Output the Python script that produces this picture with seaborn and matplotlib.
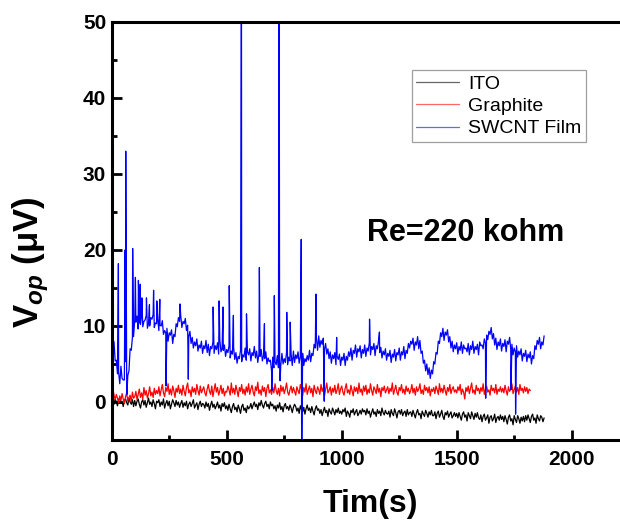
import numpy as np
import pandas as pd
import matplotlib
matplotlib.use("Agg")
import matplotlib.pyplot as plt
import seaborn as sns

# ---------------- data ----------------
step = 5  # s between samples

ito_v = [
    0.5, 0.1, -0.3, 0.4, 0.0, -0.5, 0.3, 0.6, -0.2, 0.1, -0.6, 0.2, 0.4, -0.1, -0.4, 0.5, 0.0, -0.3, 0.3, -0.6,
    0.2, -0.5, 0.1, 0.4, -0.3, -0.8, 0.0, 0.3, -0.4, 0.2, -0.7, -0.1, 0.5, -0.3, 0.0, -0.6, 0.3, -0.2, -0.9, 0.1,
    -0.1, 0.3, -0.6, 0.0, -0.4, 0.4, -0.8, -0.2, 0.2, -0.5, 0.1, -0.9, -0.3, 0.3, -0.1, -0.6, 0.2, -0.4, 0.0, -0.7,
    -0.2, 0.2, -0.7, -0.1, -0.5, 0.1, -0.9, -0.3, 0.0, -0.6, -0.2, 0.3, -0.8, -0.4, -0.1, -1.0, -0.3, 0.1, -0.6, -0.2,
    -0.3, -0.8, 0.0, -0.6, -0.2, -1.1, -0.4, 0.1, -0.7, -0.3, -0.9, -0.5, 0.0, -0.8, -0.4, -1.2, -0.2, -0.6, -0.1, -0.9,
    -0.5, -1.1, -0.3, -0.9, -1.4, -0.6, -0.2, -1.0, -0.7, -1.3, -0.4, -0.9, -1.5, -0.6, -0.3, -1.1, -0.8, -1.4, -0.5, -0.9,
    -0.7, -0.2, -0.9, -0.4, 0.0, -0.6, -0.3, -1.0, -0.1, -0.5, 0.2, -0.4, -0.8, -0.2, 0.1, -0.6, -0.3, -0.9, 0.0, -0.5,
    -0.3, -0.9, -0.5, -1.2, -0.4, -0.8, -0.1, -1.0, -0.6, -1.3, -0.5, -0.2, -0.9, -0.6, -1.1, -0.4, -0.8, -1.4, -0.7, -0.3,
    -0.6, -1.2, -0.8, -1.5, -0.5, -1.0, -1.3, -0.7, -1.6, -0.9, -0.4, -1.1, -0.8, -1.4, -0.6, -1.2, -1.7, -0.9, -0.5, -1.1,
    -0.9, -1.5, -1.0, -1.8, -1.2, -0.7, -1.4, -1.1, -1.9, -0.9, -1.3, -1.6, -0.8, -1.2, -1.7, -1.0, -1.4, -0.8, -1.5, -1.2,
    -1.6, -1.0, -1.3, -0.8, -1.9, -1.2, -1.5, -2.0, -1.1, -1.4, -0.9, -1.7, -1.3, -1.0, -1.8, -1.5, -1.1, -1.6, -0.9, -1.3,
    -1.1, -1.7, -0.9, -1.5, -1.2, -2.0, -1.4, -0.9, -1.6, -1.3, -1.9, -1.0, -1.5, -1.2, -1.8, -0.8, -1.4, -1.7, -1.1, -1.5,
    -1.6, -1.2, -2.0, -1.0, -1.5, -1.8, -0.9, -1.4, -2.1, -1.3, -1.1, -1.6, -1.0, -1.8, -1.4, -1.2, -1.9, -1.0, -1.7, -1.4,
    -1.3, -1.9, -1.1, -1.6, -2.1, -1.4, -1.0, -1.7, -1.5, -2.2, -1.2, -1.6, -1.9, -1.1, -1.5, -2.0, -1.3, -1.7, -1.1, -1.8,
    -1.8, -1.3, -2.2, -1.5, -1.2, -2.0, -1.6, -1.1, -1.9, -2.3, -1.4, -1.7, -1.2, -2.0, -1.6, -1.3, -2.1, -1.8, -1.4, -1.9,
    -1.5, -2.1, -1.4, -1.9, -2.4, -1.6, -1.3, -2.0, -1.7, -2.5, -1.4, -1.8, -2.2, -1.3, -1.8, -2.3, -1.5, -2.0, -1.4, -2.1,
    -2.3, -1.7, -2.6, -1.9, -1.6, -2.4, -2.1, -1.7, -2.8, -2.0, -1.8, -2.5, -2.2, -1.6, -2.7, -2.1, -1.9, -2.4, -1.7, -2.3,
    -1.9, -2.6, -1.8, -2.3, -2.9, -2.0, -1.7, -2.5, -2.2, -3.0, -1.8, -2.3, -2.7, -1.8, -2.2, -2.8, -2.0, -2.5, -1.9, -2.6,
    -1.8, -2.4, -1.7, -2.2, -2.7, -1.9, -1.6, -2.4, -2.1, -2.8, -1.7, -2.2, -2.5, -1.8, -2.0, -2.6, -2.1,
]

graphite_v = [
    3.0, 1.8, 0.9, 0.3, 1.0, 0.5, -0.1, 0.8, 0.2, 1.1, 0.4, -0.2, 0.7, 1.2, 0.1, 0.6, 0.9, 0.0, 1.3, 0.5,
    0.7, 1.4, 0.3, 1.0, 1.7, 0.6, 1.2, 0.4, 1.9, 0.9, 1.5, 0.5, 1.1, 2.0, 0.8, 1.3, 0.6, 1.8, 1.0, 1.5,
    1.1, 2.0, 0.8, 1.6, 2.3, 1.2, 0.7, 1.9, 1.4, 2.4, 1.0, 1.7, 0.9, 2.1, 1.5, 0.6, 1.8, 1.3, 2.2, 1.1,
    1.7, 0.9, 2.2, 1.4, 0.8, 1.9, 2.5, 1.2, 1.6, 0.7, 2.0, 1.3, 1.8, 1.0, 2.3, 1.5, 0.9, 2.1, 1.2, 1.6,
    2.0, 1.2, 0.8, 1.7, 2.3, 1.4, 1.0, 2.1, 0.7, 1.6, 2.4, 1.3, 1.9, 0.9, 1.5, 2.2, 1.1, 1.8, 0.8, 1.4,
    1.3, 2.1, 1.6, 0.9, 2.5, 1.2, 1.8, 1.0, 2.2, 1.5, 0.7, 1.9, 1.4, 2.3, 1.1, 1.7, 0.9, 2.0, 1.3, 2.4,
    1.0, 1.7, 2.2, 1.3, 0.8, 2.0, 1.5, 2.6, 1.1, 1.6, 0.9, 2.1, 1.4, 1.9, 0.7, 1.8, 2.3, 1.2, 1.6, 1.0,
    1.9, 1.2, 2.4, 1.5, 1.0, 1.8, 0.8, 2.2, 1.4, 2.0, 1.1, 1.7, 2.5, 1.3, 0.9, 1.6, 2.1, 1.2, 1.9, 1.4,
    0.9, 2.0, 1.5, 1.1, 2.3, 1.7, 0.8, 1.9, 1.3, 2.4, 1.0, 1.6, 2.1, 1.2, 1.8, 0.7, 2.2, 1.5, 1.1, 2.0,
    1.6, 1.0, 2.3, 1.4, 1.9, 0.8, 1.7, 2.5, 1.2, 1.5, 2.0, 0.9, 1.8, 1.3, 2.2, 1.1, 1.6, 2.4, 1.0, 1.7,
    2.1, 1.3, 0.9, 1.8, 2.4, 1.2, 1.6, 1.0, 2.2, 1.5, 0.8, 2.0, 1.4, 1.9, 1.1, 2.5, 1.3, 1.7, 0.9, 2.1,
    1.4, 2.2, 1.0, 1.7, 1.2, 2.4, 1.5, 0.9, 2.0, 1.6, 1.1, 2.3, 1.3, 1.8, 0.7, 1.9, 1.5, 2.1, 1.2, 1.6,
    2.0, 1.1, 1.8, 1.4, 2.5, 1.0, 1.6, 2.2, 1.3, 0.9, 1.9, 1.5, 2.3, 1.2, 1.7, 1.0, 2.1, 1.4, 1.8, 1.1,
    1.5, 2.3, 1.2, 1.8, 0.9, 2.0, 1.4, 1.7, 2.4, 1.1, 1.6, 1.0, 2.2, 1.5, 1.9, 1.2, 2.0, 0.8, 1.7, 1.4,
    1.9, 1.1, 2.1, 1.6, 1.0, 2.4, 1.3, 1.8, 1.2, 2.2, 1.5, 0.9, 1.9, 1.4, 2.3, 1.1, 1.7, 2.0, 1.3, 1.6,
    1.2, 2.0, 1.5, 2.3, 1.0, 1.7, 1.3, 0.4, 1.9, 1.4, 2.1, 1.1, 1.8, 2.5, 1.2, 1.6, 1.0, 2.2, 1.5, 1.8,
    1.1, 1.9, 1.4, 2.4, 1.0, 1.7, 2.1, 1.3, 1.6, 0.9, 2.2, 1.5, 1.8, 1.2, 2.3, 1.0, 1.7, 1.4, 2.0, 1.3,
    1.8, 1.2, 2.2, 1.5, 0.9, 2.0, 1.4, 1.7, 2.4, 1.1, 1.6, 2.1, 1.3, 1.9, 1.0, 2.3, 1.5, 1.8, 1.2, 2.0,
    1.4, 1.9, 1.1, 1.7, 1.5,
]

swcnt_v = [
    10.2, 8.2, 7.9, 5.4, 5.5, 3.7, 3.9, 2.4, 4.7, 3.1, 2.9, 2.9, 5.3, 3.4, 3.5, 4.1, 7.0, 6.8, 8.5, 8.6,
    10.8, 10.5, 11.3, 9.6, 10.4, 10.2, 11.7, 9.9, 10.6, 10.8, 11.4, 9.7, 10.3, 10.0, 11.1, 10.9, 11.5, 9.8, 10.4, 10.3,
    10.9, 9.4, 10.1, 10.0, 10.7, 8.9, 9.4, 9.1, 9.7, 8.0, 9.1, 8.8, 9.5, 7.7, 8.9, 8.6, 10.3, 9.9, 11.1, 10.6,
    11.4, 9.8, 10.6, 10.3, 11.0, 9.4, 10.1, 8.6, 9.3, 7.7, 8.5, 7.1, 7.9, 7.4, 8.3, 6.7, 7.5, 7.1, 8.0, 6.4,
    7.4, 7.0, 8.1, 6.5, 7.6, 6.1, 7.3, 7.0, 7.9, 6.4, 7.4, 6.9, 7.8, 6.3, 8.2, 6.6, 7.1, 6.8, 7.5, 6.0,
    6.9, 6.5, 7.4, 5.8, 6.7, 6.3, 7.2, 5.6, 6.5, 5.1, 6.0, 5.7, 6.8, 5.3, 6.2, 5.9, 7.1, 5.5, 6.6, 6.2,
    7.0, 5.4, 6.5, 6.1, 7.3, 5.8, 6.7, 5.2, 6.3, 6.0, 6.9, 5.4, 6.1, 5.7, 6.6, 5.0, 5.8, 5.3, 5.5, 4.1,
    5.9, 4.5, 5.3, 4.9, 6.1, 4.5, 5.1, 4.8, 6.4, 5.0, 5.7, 5.2, 6.5, 4.9, 5.9, 5.4, 6.3, 4.8, 6.7, 5.2,
    6.2, 5.7, 6.6, 5.1, 6.0, 5.5, 6.4, 4.8, 5.7, 5.3, 6.1, 5.5, 6.8, 5.3, 6.4, 6.1, 7.6, 7.1, 8.4, 6.8,
    8.7, 7.2, 8.1, 7.6, 8.4, 6.9, 7.7, 6.3, 7.0, 5.7, 6.6, 5.1, 6.2, 5.7, 6.5, 4.9, 6.0, 5.6, 6.3, 4.8,
    5.9, 5.5, 6.4, 4.8, 6.0, 5.5, 6.6, 6.0, 7.1, 5.5, 6.8, 6.4, 7.5, 5.9, 7.0, 6.6, 7.4, 5.8, 6.9, 6.4,
    7.5, 6.0, 7.1, 6.7, 7.8, 6.2, 7.3, 6.9, 7.7, 6.1, 7.4, 7.0, 8.0, 6.5, 7.2, 5.8, 6.7, 6.2, 7.0, 5.5,
    6.4, 6.0, 6.8, 5.2, 6.3, 5.9, 6.9, 5.4, 6.5, 6.2, 7.1, 5.5, 6.6, 6.2, 7.3, 5.7, 6.8, 6.4, 7.7, 7.1,
    8.0, 7.6, 8.4, 6.8, 7.9, 7.5, 8.6, 7.0, 8.1, 6.4, 6.7, 5.1, 5.5, 4.1, 5.0, 3.6, 4.5, 3.1, 4.2, 3.7,
    5.3, 5.0, 6.5, 6.3, 8.0, 7.7, 9.1, 8.6, 9.7, 8.1, 9.2, 8.8, 9.5, 7.9, 8.6, 7.1, 8.0, 6.6, 7.5, 7.0,
    7.8, 6.3, 7.3, 6.8, 7.9, 6.4, 7.5, 7.0, 7.1, 6.6, 7.7, 6.2, 7.4, 6.9, 8.0, 6.4, 7.3, 6.9, 7.6, 6.2,
    7.9, 7.4, 7.5, 7.0, 8.3, 7.7, 8.8, 8.2, 9.3, 8.9, 9.8, 8.3, 9.0, 7.5, 8.4, 6.9, 7.9, 7.4, 8.3, 6.7,
    7.7, 7.3, 8.2, 6.6, 8.0, 7.6, 8.5, 6.9, 7.6, 6.2, 7.1, 6.6, 7.4, 5.9, 6.7, 6.2, 7.0, 5.4, 6.4, 6.0,
    6.8, 5.3, 6.3, 5.8, 6.6, 5.0, 6.1, 5.7, 7.4, 6.9, 8.1, 7.6, 8.5, 7.0, 7.9, 7.5, 8.7,
]

# single-sample spikes in the SWCNT film trace
swcnt_spike_t = [3, 29, 58, 61, 66, 91, 103, 116, 124, 131, 151, 164, 182, 196,
                 209, 236, 297, 333, 441, 467, 484, 511, 529, 562, 564, 586,
                 642, 664, 696, 707, 726, 728, 732, 761, 776, 824, 826, 888,
                 924, 978, 1121, 1164, 1626, 1736, 1756]
swcnt_spike_v = [17.0, 18.2, 20.0, 33.0, 1.0, 20.2, 16.4, 16.0, 15.5, 13.7,
                 13.7, 12.8, 14.7, 13.3, 13.5, 2.1, 12.9, 3.0, 12.5, 13.3,
                 12.5, 15.3, 11.4, 37.0, 62.0, 11.6, 17.7, 10.3, 1.5, 14.0,
                 32.3, 62.0, 2.8, 11.8, 10.5, 21.4, -9.0, 14.2, 0.1, 8.5,
                 10.9, 9.2, 0.5, 1.6, -1.6]

labels = ["ITO", "Graphite", "SWCNT Film"]
colors = ["#000000", "#ff0000", "#0000ff"]
annotation = "Re=220 kohm"

# ---------------- assemble long table ----------------
def frame(values, name, extra_t=(), extra_v=()):
    t = list(np.arange(len(values)) * step) + list(extra_t)
    v = list(values) + list(extra_v)
    d = pd.DataFrame({"t": t, "v": v, "material": name})
    return d.sort_values("t")

df = pd.concat([
    frame(ito_v, labels[0]),
    frame(graphite_v, labels[1]),
    frame(swcnt_v, labels[2], swcnt_spike_t, swcnt_spike_v),
], ignore_index=True)

# ---------------- style ----------------
sns.set_theme(style="ticks")
plt.rcParams["font.family"] = ["Liberation Sans", "DejaVu Sans"]
plt.rcParams["font.weight"] = "bold"
plt.rcParams["text.color"] = "black"
plt.rcParams["axes.labelcolor"] = "black"
plt.rcParams["xtick.color"] = "black"
plt.rcParams["ytick.color"] = "black"
plt.rcParams["mathtext.fontset"] = "custom"
plt.rcParams["mathtext.rm"] = "Liberation Sans:bold"
plt.rcParams["mathtext.bf"] = "Liberation Sans:bold"
plt.rcParams["mathtext.it"] = "Liberation Sans:bold:italic"

fig = plt.figure(figsize=(6.2, 5.21), dpi=100)
ax = fig.add_axes([0.1802, 0.1555, 0.8198, 0.8023])

sns.lineplot(data=df, x="t", y="v", hue="material", hue_order=labels,
             palette=colors, estimator=None, sort=True, linewidth=0.9,
             ax=ax)

ax.set_xlim(0, 2210)
ax.set_ylim(-5, 50)
ax.set_xticks([0, 500, 1000, 1500, 2000])
ax.set_xticks([250, 750, 1250, 1750], minor=True)
ax.set_yticks([0, 10, 20, 30, 40, 50])
ax.set_yticks([-5, 5, 15, 25, 35, 45], minor=True)

for s in ["left", "bottom", "top"]:
    ax.spines[s].set_linewidth(2.2)
    ax.spines[s].set_color("black")
ax.spines["right"].set_visible(False)

ax.tick_params(axis="both", which="major", direction="in", length=7,
               width=2.0, labelsize=15, color="black", labelcolor="black")
ax.tick_params(axis="both", which="minor", direction="in", length=3.8,
               width=2.0, color="black")
ax.tick_params(axis="x", which="major", pad=7)
ax.tick_params(axis="y", which="major", pad=4)
ax.tick_params(top=False, right=False, which="both")
for lab in ax.get_xticklabels() + ax.get_yticklabels():
    lab.set_fontweight("bold")

ax.set_xlabel("Tim(s)", fontsize=23, fontweight="bold", color="black")
ax.set_ylabel(r"$\mathrm{V}_{op}$ (μV)", fontsize=25, fontweight="bold",
              color="black")
ax.xaxis.set_label_coords(0.508, -0.118)
ax.yaxis.set_label_coords(-0.12, 0.425)

ax.text(1540, 22.3, annotation, fontsize=22, fontweight="bold",
        ha="center", va="center", color="black")

handles, labs = ax.get_legend_handles_labels()
for h in handles:
    h.set_linewidth(0.9)
    h.set_alpha(0.6)
leg = ax.legend(handles, labs, loc="upper left", bbox_to_anchor=(0.59, 0.885),
                frameon=True, fancybox=False, handlelength=2.2,
                handletextpad=0.45, labelspacing=0.25, borderpad=0.25,
                borderaxespad=0.0, prop={"weight": "normal", "size": 14})
leg.get_frame().set_edgecolor("#888888")
leg.get_frame().set_linewidth(0.9)
for txt in leg.get_texts():
    txt.set_color("black")

fig.savefig("out.png", dpi=100)
